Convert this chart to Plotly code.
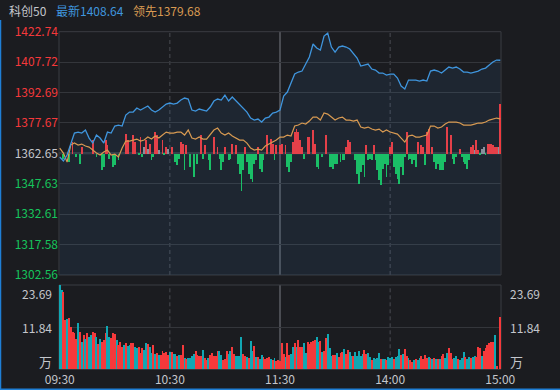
import plotly.graph_objects as go

# ---------------- data ----------------
prev_close = 1362.65
minutes = list(range(0, 241, 2))  # sampled every 2 minutes (0 = 09:30, 240 = 15:00)

price = [
    1360.82, 1358.85, 1361.81, 1367.74, 1372.68, 1373.17, 1372.68, 1374.16, 1370.21, 1367.74,
    1371.69, 1370.21, 1367.74, 1373.17, 1372.68, 1376.14, 1376.63, 1376.14, 1381.57, 1383.05,
    1383.05, 1385.03, 1384.04, 1385.03, 1386.02, 1384.04, 1383.05, 1384.04, 1385.52, 1387.00,
    1387.50, 1387.00, 1387.50, 1388.98, 1389.97, 1389.47, 1384.04, 1383.55, 1384.53, 1384.04,
    1383.55, 1385.52, 1388.49, 1389.47, 1388.98, 1391.45, 1388.49, 1390.46, 1388.49, 1387.00,
    1385.03, 1383.05, 1380.09, 1379.10, 1379.59, 1378.11, 1380.09, 1380.58, 1382.56, 1383.05,
    1384.04, 1390.96, 1392.93, 1397.38, 1401.82, 1402.81, 1403.31, 1406.76, 1410.22, 1416.65,
    1414.67, 1413.68, 1420.60, 1422.08, 1415.16, 1412.69, 1415.16, 1415.66, 1415.16, 1414.17,
    1412.20, 1409.73, 1405.78, 1406.27, 1406.76, 1404.29, 1403.80, 1402.32, 1402.32, 1401.33,
    1401.82, 1401.82, 1399.85, 1395.90, 1394.41, 1398.86, 1398.86, 1398.86, 1398.37, 1398.86,
    1398.37, 1403.31, 1403.80, 1403.31, 1402.32, 1403.80, 1405.28, 1404.79, 1405.28, 1404.29,
    1402.81, 1402.81, 1402.32, 1402.81, 1403.31, 1404.29, 1404.79, 1406.27, 1407.75, 1408.74,
    1408.64,
]

lead = [
    1365.27, 1362.80, 1358.35, 1366.75, 1367.74, 1366.75, 1367.24, 1366.26, 1365.76, 1364.28,
    1362.80, 1361.81, 1363.29, 1364.28, 1361.81, 1362.30, 1360.82, 1365.27, 1368.73, 1368.73,
    1369.22, 1369.71, 1368.73, 1369.22, 1370.70, 1369.71, 1371.20, 1370.21, 1371.69, 1373.17,
    1372.68, 1372.68, 1373.17, 1373.17, 1371.69, 1374.16, 1370.21, 1369.71, 1370.70, 1369.71,
    1369.71, 1371.69, 1374.16, 1375.15, 1372.68, 1371.69, 1372.68, 1371.20, 1370.21, 1369.22,
    1369.22, 1367.74, 1365.27, 1364.28, 1364.77, 1364.28, 1366.26, 1367.24, 1368.23, 1369.22,
    1370.70, 1370.70, 1371.69, 1371.20, 1376.14, 1376.63, 1377.62, 1377.12, 1378.61, 1380.58,
    1380.58, 1379.10, 1382.56, 1382.06, 1380.58, 1379.10, 1380.09, 1380.58, 1379.10, 1379.10,
    1378.61, 1379.10, 1375.64, 1375.15, 1375.64, 1374.65, 1374.16, 1374.65, 1373.17, 1374.16,
    1373.17, 1372.68, 1372.18, 1370.21, 1368.23, 1371.20, 1371.69, 1370.70, 1370.70, 1371.20,
    1371.69, 1376.14, 1376.14, 1375.15, 1375.64, 1377.12, 1378.11, 1378.11, 1378.11, 1377.62,
    1376.63, 1376.63, 1376.63, 1377.12, 1377.62, 1377.62, 1378.11, 1379.10, 1379.59, 1380.09,
    1379.68,
]

# per-minute volume (万), 241 minutes
volume = [
    23.69, 22.3, 21.8, 13.9, 14.1, 14.3, 12.0, 10.6, 10.3, 8.4,
    12.9, 10.6, 7.8, 9.6, 8.4, 10.3, 9.2, 9.6, 10.6, 10.1,
    9.2, 7.1, 8.4, 7.8, 8.2, 10.1, 12.2, 9.0, 8.7, 10.1,
    9.9, 8.2, 6.8, 7.8, 6.4, 6.8, 7.5, 6.6, 6.8, 7.3,
    7.5, 6.4, 5.9, 6.4, 4.7, 5.9, 5.4, 7.5, 7.1, 6.4,
    4.7, 6.8, 4.3, 4.5, 4.0, 4.0, 5.2, 4.5, 5.0, 4.0, 5.0,
    5.0, 4.3, 4.3, 3.7, 4.0, 4.0, 6.8, 3.1, 2.9, 3.1,
    3.1, 3.6, 4.3, 5.1, 4.0, 3.7, 3.7, 5.4, 3.1, 2.6,
    3.3, 4.0, 4.5, 3.7, 3.6, 5.1, 5.1, 4.0, 2.6, 2.9,
    5.1, 4.3, 5.1, 6.2, 4.3, 3.7, 3.7, 3.7, 9.0, 4.3,
    3.7, 3.4, 3.1, 8.0, 5.1, 6.6, 3.4, 3.4, 2.8, 4.0,
    3.4, 2.9, 3.1, 3.4, 2.8, 2.6, 3.1, 2.3, 2.6, 2.4,
    7.3, 4.3, 3.4, 7.3, 4.0, 4.3, 6.2, 7.3, 6.2, 8.2,
    6.4, 6.2, 7.3, 4.7, 7.6, 7.1, 7.6, 7.9, 8.2, 9.0,
    7.7, 8.0, 5.0, 5.2, 8.7, 10.0, 6.0, 3.7, 4.0, 4.0,
    4.5, 3.4, 4.7, 5.0, 5.7, 4.3, 5.4, 5.0, 3.7, 3.7,
    4.8, 3.7, 5.1, 3.7, 4.3, 5.4, 4.3, 4.5, 3.4, 2.6,
    3.1, 2.9, 3.1, 4.5, 2.9, 2.9, 2.8, 2.6, 3.4,
    3.1, 3.4, 2.8, 3.4, 3.7, 5.6, 4.0, 4.3, 5.6, 3.7,
    3.1, 2.6, 2.1, 2.6, 2.8, 2.6, 3.1, 3.6, 2.8, 4.0,
    3.1, 3.4, 3.1, 2.8, 3.1, 2.8, 2.8, 2.8, 3.6, 4.3,
    3.1, 4.5, 5.9, 4.5, 2.8, 3.1, 3.7, 2.8, 2.6, 3.1,
    5.0, 3.4, 2.8, 3.4, 3.1, 3.4, 3.7, 3.4, 6.2, 5.9,
    3.7, 5.2, 5.9, 6.8, 7.3, 7.7, 7.7,
    9.6, 0.9, 0.0, 14.8,
]
# r = up minute, t = down minute
volume_dir = (
    "ttrrtrrrrr" "trtrtrttrr" "trtrrrttrr" "rtrrrtrttr" "rttrrrttrt" "trtrtrrrrrt"
    "rttrtrrtrt" "tttrrrrtrr" "trrrrrttrr" "rttrrttttr" "rtrttrtrtt" "rrrrtrtrrr"
    "rrtrrttrtr" "rrttrrrrrt" "trtrrtttrr" "trrrtrrttr" "tttttrrttr" "ttttrttrt"
    "ttrtttrtrr" "trrtrttrrr" "rtrtrtrtrr" "ttrrrttrtt" "trttrttrrr" "trrrrrr" "trrr"
)

# advance/decline strength bars around the zero line (minute index, signed points)
flow_min = [
    2, 5, 7, 9, 11, 12, 18, 20, 23, 24, 25, 26, 27, 29, 30, 32, 36, 37, 40, 41,
    43, 44, 45, 47, 49, 50, 51, 52, 53, 56, 57, 58, 61, 63, 64, 65, 66, 67, 68, 69,
    71, 73, 75, 77, 78, 79, 81, 82, 84, 86, 87, 88, 89, 90, 92, 93, 94, 96, 97, 98,
    99, 100, 101, 102, 103, 104, 105, 106, 107, 108, 109, 110, 111, 113, 115, 116, 117, 118, 120, 121,
    123, 124, 125, 126, 127, 128, 129, 130, 131, 132, 133, 135, 136, 138, 139, 140, 141, 143, 145, 147,
    148, 149, 150, 151, 153, 154, 155, 156, 157, 158, 161, 162, 163, 164, 165, 166, 167, 168, 169, 170,
    171, 172, 173, 174, 175, 176, 177, 178, 179, 180, 181, 182, 183, 184, 185, 186, 187, 188, 189, 190,
    191, 192, 193, 194, 195, 197, 198, 199, 200, 201, 203, 204, 205, 206, 207, 208, 209, 210, 211, 213,
    214, 215, 216, 218, 219, 220, 221, 222, 223, 224, 225, 227, 228, 229, 232, 233, 234, 235, 236, 237,
    238, 240,
]
flow_val = [
    -2.5, -4.1, 5.8, -1.6, -4.9, 3.3, 6.6, -1.6, -8.2, -6.6, 6.6, 4.1, -2.5, -6.6, -5.8, -3.3, 9.9, 6.6, 9.1, 5.8,
    -0.8, 8.2, -1.6, 6.6, 4.9, -3.3, -1.6, 10.7, 9.1, 6.6, -0.8, 3.3, 3.3, -4.1, -5.8, -2.5, 5.8, 4.9, -8.2, 4.1,
    -6.6, -11.5, -4.9, 9.1, -2.5, 4.1, -3.3, -8.2, 8.2, 3.3, -2.5, -8.2, -4.1, 3.3, -3.3, -2.5, 4.9, 4.1, -4.9, -9.9,
    -18.5, -8.2, 3.3, -4.1, -9.9, -12.3, -14.0, -4.9, -3.3, 3.3, -7.4, -9.1, -3.3, 9.1, 7.4, 4.9, -3.3, 4.1, 4.1, 4.9,
    4.1, -6.6, -9.1, -4.1, 5.8, 10.7, 12.3, 10.7, 6.6, 3.3, -2.5, 8.2, 8.2, 11.5, 4.9, -6.6, -7.4, -1.6, 9.1, -6.6,
    -6.6, -7.4, -4.9, -4.9, -4.1, -3.3, -3.3, 3.3, 6.6, 5.8, -3.3, -9.9, -14.8, -9.1, -5.8, -11.5, 4.1, -3.3, -2.5, -3.3,
    4.1, -3.3, -8.2, -13.2, -15.6, -7.4, -4.9, -11.5, -5.8, 3.3, 5.8, -6.6, -9.9, -12.3, -14.8, -6.6, -10.7, -1.6, 10.7, -3.3,
    -2.5, -4.9, -3.3, -6.6, 5.8, 4.1, 3.3, -5.8, 10.7, 12.3, 3.3, -4.1, -7.4, -4.9, -8.2, -8.2, -8.2, -4.1, 13.2, 9.1,
    -2.5, -4.9, -1.6, 2.5, -1.6, -4.1, -4.9, -7.4, -3.3, 3.3, 4.1, 6.6, 1.6, -0.8, -0.8, 4.9, 4.9, 4.9, 4.1, 3.3,
    3.3, 24.7,
]
# neutral (flat) minutes drawn in gray
flat_min = [46, 48, 54, 59, 226, 230, 231, 239]
flat_val = [3.3, 2.5, 2.0, 2.5, 2.0, 2.5, 3.3, 3.3]

price_ticks = [1302.56, 1317.58, 1332.61, 1347.63, 1362.65, 1377.67, 1392.69, 1407.72, 1422.74]
pct_ticks = [-4.41, -3.31, -2.20, -1.10, 0.00, 1.10, 2.20, 3.31, 4.41]
time_ticks = [0, 60, 120, 180, 240]
time_labels = ["09:30", "10:30", "11:30", "14:00", "15:00"]
vol_ticks = [23.69, 11.84]
vol_unit = "万"
title_name = "科创50"
last_price = price[-1]
last_lead = lead[-1]

# ---------------- style ----------------
W, H = 560, 390
BG = "#1b1c20"
GRID = "#34363b"
FRAME = "#3a3c42"
RED = "#f5393b"
GREEN = "#16c45c"
GRAYTXT = "#c4c6cc"
FLAT = "#8e9096"
BLUE = "#3f95dd"
ORANGE = "#d89a52"
TEAL = "#11a7b3"
EDGE = "#1f7fd6"
FONT = "Noto Sans CJK SC, Liberation Sans, sans-serif"


def px_x(v):
    return v / W


def px_y(v):
    return 1 - v / H


X_DOM = [px_x(59), px_x(501)]
MAIN_DOM = [px_y(275), px_y(31.7)]
VOL_DOM = [px_y(369.3), px_y(285)]
XR = [-0.4, 240.4]


def colored(val, ref, text):
    c = RED if val > ref else (GREEN if val < ref else GRAYTXT)
    return f'<span style="color:{c}">{text}</span>'


fig = go.Figure()

# price area fill
fig.add_trace(go.Scatter(
    x=minutes, y=price, mode="none",
    fill="tozeroy", fillcolor="rgba(65,140,220,0.09)", xaxis="x", yaxis="y",
    hoverinfo="skip"))

# flow bars
fig.add_trace(go.Bar(
    x=flow_min, y=flow_val, base=prev_close, width=0.45,
    marker=dict(color=[RED if v > 0 else GREEN for v in flow_val], line=dict(width=0)),
    xaxis="x", yaxis="y", hoverinfo="skip"))
fig.add_trace(go.Bar(
    x=flat_min, y=flat_val, base=prev_close, width=0.45,
    marker=dict(color=FLAT, line=dict(width=0)),
    xaxis="x", yaxis="y", hoverinfo="skip"))

# leading line
fig.add_trace(go.Scatter(
    x=minutes, y=lead, mode="lines", line=dict(color=ORANGE, width=1.2),
    xaxis="x", yaxis="y", hoverinfo="skip"))
# price line
fig.add_trace(go.Scatter(
    x=minutes, y=price, mode="lines", line=dict(color=BLUE, width=1.3),
    xaxis="x", yaxis="y", hoverinfo="skip"))

# volume bars
vx = list(range(len(volume)))
vcol = [RED if d == "r" else TEAL for d, _ in zip(volume_dir.ljust(len(volume), "t"), volume)]
fig.add_trace(go.Bar(
    x=vx, y=volume, width=0.52, marker=dict(color=vcol, line=dict(width=0)),
    xaxis="x2", yaxis="y3", hoverinfo="skip"))

shapes = []
# zero line
shapes.append(dict(type="line", xref="x", yref="y", x0=XR[0], x1=XR[1], y0=prev_close, y1=prev_close,
                   line=dict(color="#3d4047", width=2), layer="below"))
# vertical time lines
for t, dash, w in [(60, "dash", 1), (120, "solid", 2), (180, "dash", 1)]:
    for dom in (MAIN_DOM, VOL_DOM):
        shapes.append(dict(type="line", xref="x", yref="paper", x0=t, x1=t, y0=dom[0], y1=dom[1],
                           line=dict(color="#4a4c52", width=w, dash="4px,3px" if dash == "dash" else "solid"),
                           layer="below"))
# frames
for dom in (MAIN_DOM, VOL_DOM):
    shapes.append(dict(type="rect", xref="paper", yref="paper", x0=X_DOM[0], x1=X_DOM[1], y0=dom[0], y1=dom[1],
                       line=dict(color=FRAME, width=1), layer="below"))
# window focus edge (left and bottom)
shapes.append(dict(type="line", xref="paper", yref="paper", x0=px_x(0.5), x1=px_x(0.5), y0=0, y1=px_y(20),
                   line=dict(color=EDGE, width=1.5)))
shapes.append(dict(type="line", xref="paper", yref="paper", x0=0, x1=1, y0=px_y(389.3), y1=px_y(389.3),
                   line=dict(color=EDGE, width=1.5)))

annotations = []
# header
for txt, x0, col in [(title_name, 7, GRAYTXT), (f"最新{last_price:.2f}", 54, BLUE), (f"领先{last_lead:.2f}", 131, ORANGE)]:
    annotations.append(dict(text=txt, xref="paper", yref="paper", x=px_x(x0), y=px_y(10.5), xanchor="left",
                            yanchor="middle", showarrow=False, font=dict(size=12, color=col, family=FONT)))
# volume labels
vol_label_y = {23.69: 293.5, 11.84: 327.3}
for v in vol_ticks:
    for xx, anc in [(54, "right"), (508, "left")]:
        annotations.append(dict(text=f"{v:.2f}", xref="paper", yref="paper",
                                x=px_x(xx), y=px_y(vol_label_y.get(v, 327.3)), xanchor=anc, yanchor="middle",
                                showarrow=False, font=dict(size=12, color=GRAYTXT, family=FONT)))
for xx, anc in [(54, "right"), (508, "left")]:
    annotations.append(dict(text=vol_unit, xref="paper", yref="paper", x=px_x(xx), y=px_y(361),
                            xanchor=anc, yanchor="middle", showarrow=False,
                            font=dict(size=13, color=GRAYTXT, family=FONT)))

fig.update_layout(
    width=W, height=H, margin=dict(l=0, r=0, t=0, b=0, autoexpand=False),
    paper_bgcolor=BG, plot_bgcolor=BG, showlegend=False, barmode="overlay", bargap=0,
    font=dict(family=FONT, size=12, color=GRAYTXT),
    xaxis=dict(domain=X_DOM, range=XR, anchor="y", showticklabels=False, showgrid=False,
               zeroline=False, showline=False, ticks="", automargin=False),
    xaxis2=dict(domain=X_DOM, range=XR, anchor="y3", tickvals=time_ticks, ticktext=time_labels,
                showgrid=False, zeroline=False, showline=False, ticks="", automargin=False,
                tickfont=dict(size=12, color=GRAYTXT, family=FONT), ticklabelstandoff=2),
    yaxis=dict(domain=MAIN_DOM, range=[price_ticks[0], price_ticks[-1]], anchor="x",
               tickvals=price_ticks,
               ticktext=[colored(v, prev_close, f"{v:.2f}") for v in price_ticks],
               showgrid=True, gridcolor=GRID, gridwidth=1, zeroline=False, showline=False, ticks="",
               tickfont=dict(size=12, family=FONT), automargin=False),
    yaxis2=dict(overlaying="y", side="right", range=[pct_ticks[0], pct_ticks[-1]], anchor="x",
                tickvals=pct_ticks,
                ticktext=[colored(v, 0, f"{v:.2f}%") for v in pct_ticks],
                showgrid=False, zeroline=False, showline=False, ticks="", automargin=False,
                tickfont=dict(size=12, family=FONT), ticklabelstandoff=3),
    yaxis3=dict(domain=VOL_DOM, range=[0, max(vol_ticks)], anchor="x2", tickvals=vol_ticks,
                showticklabels=False, showgrid=True, gridcolor=GRID, zeroline=False, showline=False,
                ticks="", automargin=False),
    shapes=shapes, annotations=annotations,
)

fig.write_html(
    "out.html",
    config={"displayModeBar": False},
    post_script="document.body.style.margin='0';document.body.style.padding='0';"
                "document.body.style.background='" + BG + "';window.dispatchEvent(new Event('resize'));",
)
